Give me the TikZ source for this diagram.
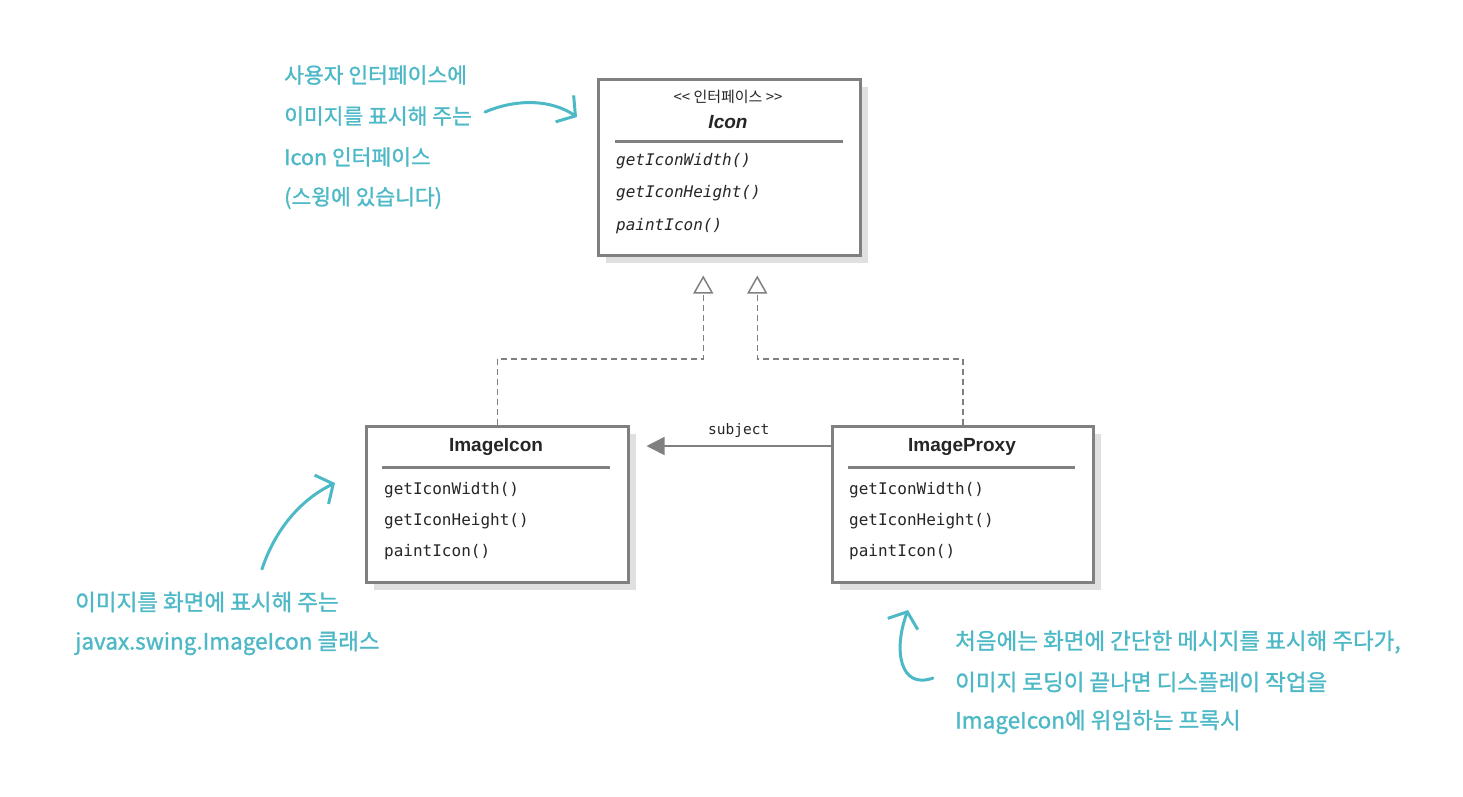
\documentclass[tikz,border=0pt]{standalone}
\usepackage{fontspec}
\setmainfont{Liberation Sans}
\newfontfamily\krfont{Noto Sans CJK KR}
\newfontfamily\krnote[FakeBold=1.2]{Noto Sans CJK KR}
\newfontfamily\umlmono{DejaVu Sans Mono}
\usetikzlibrary{arrows.meta, positioning, shadows}
\definecolor{noteteal}{RGB}{77,184,198}
\definecolor{umlgray}{RGB}{128,128,128}

\begin{document}
\begin{tikzpicture}[x=1pt, y=-1pt,
  umlclass/.style={draw=umlgray, line width=2.5pt, fill=white, anchor=north west,
    minimum width=262pt, minimum height=156pt, inner sep=0pt,
    drop shadow={shadow xshift=8pt, shadow yshift=-8pt, fill=black!12, opacity=1}},
  umltitle/.style={font=\fontsize{19}{22}\selectfont\bfseries, text=black!85},
  umlmethod/.style={font=\umlmono\fontsize{16}{18}\selectfont, text=black!85, anchor=west, inner sep=0pt},
  sepline/.style={draw=umlgray, line width=3pt},
  realize/.style={draw=umlgray, line width=1.5pt, dash pattern=on 6pt off 4pt,
    -{Triangle[length=18pt, width=20pt, fill=white]}},
  assoc/.style={draw=umlgray, line width=1.5pt, -{Triangle[length=18pt, width=18pt]}},
  notetext/.style={font=\krnote\fontsize{22.5}{26}\selectfont, text=noteteal, anchor=west, inner sep=0pt},
  notearrow/.style={draw=noteteal, line width=3pt, line cap=round, line join=round,
    -{Straight Barb[length=13pt, width=32pt]}}]

  \useasboundingbox (0,0) rectangle (1463,796);

  % Icon interface
  \node[umlclass, minimum height=176pt] (icon) at (597,78) {};
  \node[font=\krfont\fontsize{15}{17}\selectfont, text=black!85] (iconstereo) at (728,97) {<{}< 인터페이스 >{}>};
  \node[umltitle, font=\fontsize{19}{22}\selectfont\bfseries\itshape] (icontitle) at (728,122) {Icon};
  \draw[sepline] (615,141) -- (843,141);
  \foreach \m [count=\i] in {getIconWidth(), getIconHeight(), paintIcon()} {
    \node[umlmethod, font=\umlmono\itshape\fontsize{16}{18}\selectfont] (iconm\i) at (616,{161+32.5*(\i-1)}) {\m};
  }

  % ImageIcon class
  \node[umlclass] (imgicon) at (365,425) {};
  \node[umltitle] (imgicontitle) at (496,447) {ImageIcon};
  \draw[sepline] (382,467) -- (610,467);
  \foreach \m [count=\i] in {getIconWidth(), getIconHeight(), paintIcon()} {
    \node[umlmethod] (imgiconm\i) at (384,{490+31*(\i-1)}) {\m};
  }

  % ImageProxy class
  \node[umlclass, minimum width=261pt] (improxy) at (831,425) {};
  \node[umltitle] (improxytitle) at (962,447) {ImageProxy};
  \draw[sepline] (848,467) -- (1075,467);
  \foreach \m [count=\i] in {getIconWidth(), getIconHeight(), paintIcon()} {
    \node[umlmethod] (improxym\i) at (849,{490+31*(\i-1)}) {\m};
  }

  % realization and association
  \draw[realize] (imgicon.north) -- ++(0,-66) -| ([xshift=-26pt, yshift=-19pt]icon.south);
  \draw[realize] (improxy.north) -- ++(0,-66) -| ([xshift=28pt, yshift=-19pt]icon.south);
  \draw[assoc] ([yshift=-21pt]improxy.north west) -- ([xshift=17pt, yshift=-21pt]imgicon.north east)
    node[midway, above=4pt, font=\umlmono\fontsize{14.5}{16}\selectfont, text=black!85] (subj) {subject};

  % notes
  \foreach \t [count=\i] in {사용자 인터페이스에, 이미지를 표시해 주는, Icon 인터페이스, (스윙에 있습니다)} {
    \node[notetext, font=\krnote\fontsize{21.5}{26}\selectfont] (noteA\i) at (284,{75+41*(\i-1)}) {\t};
  }
  \foreach \t [count=\i] in {이미지를 화면에 표시해 주는, javax.swing.ImageIcon 클래스} {
    \node[notetext] (noteB\i) at (75,{602+41*(\i-1)}) {\t};
  }
  \foreach \t [count=\i] in {{처음에는 화면에 간단한 메시지를 표시해 주다가,}, 이미지 로딩이 끝나면 디스플레이 작업을, ImageIcon에 위임하는 프록시} {
    \node[notetext] (noteC\i) at (955,{642+40*(\i-1)}) {\t};
  }

  \coordinate (noteAtail) at (485,112);
  \coordinate (noteAtip) at (577,117);
  \coordinate (noteBtail) at (262,569);
  \coordinate (noteBtip) at (335,483);
  \coordinate (noteCtail) at (933,678);
  \coordinate (noteCtip) at (908,610);
  \draw[notearrow] (noteAtail) .. controls (518,98) and (552,100) .. (noteAtip);
  \draw[notearrow] (noteBtail) .. controls (275,530) and (300,500) .. (noteBtip);
  \draw[notearrow] (noteCtail) .. controls (900,690) and (893,650) .. (noteCtip);
\end{tikzpicture}
\end{document}
